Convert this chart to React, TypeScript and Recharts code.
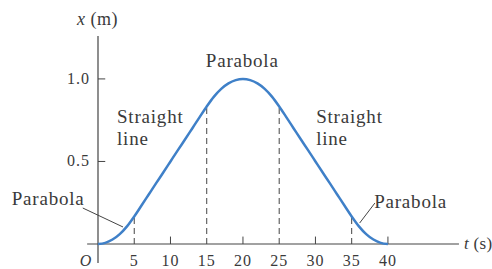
import React from "react";
import {
    LineChart,
    Line,
    XAxis,
    YAxis,
    ReferenceLine,
    ReferenceDot,
} from "recharts";

// time (s) and position (m)
const times = [
    0, 1, 2, 3, 4, 5, 6, 7, 8, 9, 10, 11, 12, 13, 14, 15, 16, 17, 18, 19, 20,
    21, 22, 23, 24, 25, 26, 27, 28, 29, 30, 31, 32, 33, 34, 35, 36, 37, 38, 39, 40,
];
const positions = [
    0, 0.007, 0.027, 0.06, 0.107, 0.167, 0.233, 0.3, 0.367, 0.433, 0.5, 0.567,
    0.633, 0.7, 0.767, 0.833, 0.893, 0.94, 0.973, 0.993, 1.0, 0.993, 0.973, 0.94,
    0.893, 0.833, 0.767, 0.7, 0.633, 0.567, 0.5, 0.433, 0.367, 0.3, 0.233, 0.167,
    0.107, 0.06, 0.027, 0.007, 0,
];

const xTicks = [0, 5, 10, 15, 20, 25, 30, 35, 40];
const yTicks = [0.5, 1.0];
const minorTicks = [10, 20, 30, 40];
// where the motion changes from parabola to straight line
const boundaries = [5, 15, 25, 35];

const BLUE = "#3f80c8";
const INK = "#3a3a3a";
const FONT = "Liberation Serif, Times New Roman, serif";

const data = times.map((t, i) => ({ t, x: positions[i] }));
const xAt = (t: number) => positions[times.indexOf(t)];

const textStyle = (size: number, spacing: number): React.CSSProperties => ({
    fontFamily: FONT,
    fontSize: size,
    letterSpacing: spacing,
    fill: INK,
});

const XTick = (props: any) => {
    const { x, y, payload } = props;
    const zero = payload.value === 0;
    return (
        <text
            x={zero ? x - 12 : x}
            y={y + 14}
            textAnchor="middle"
            style={{ ...textStyle(16, 1), fontStyle: zero ? "italic" : "normal" }}
        >
            {zero ? "O" : payload.value}
        </text>
    );
};

const YTick = (props: any) => {
    const { x, y, payload } = props;
    return (
        <text x={x} y={y + 5} textAnchor="end" style={textStyle(16, 1)}>
            {payload.value.toFixed(1)}
        </text>
    );
};

const note = (
    lines: React.ReactNode[],
    anchor: "start" | "middle",
    size: number,
    spacing: number
) =>
    ({ viewBox }: any) => (
        <text
            x={viewBox.x}
            y={viewBox.y}
            textAnchor={anchor}
            style={textStyle(size, spacing)}
        >
            {lines.map((l, i) => (
                <tspan key={i} x={viewBox.x} dy={i === 0 ? 0 : 22}>
                    {l}
                </tspan>
            ))}
        </text>
    );

const Note = (
    t: number,
    x: number,
    lines: React.ReactNode[],
    anchor: "start" | "middle" = "start",
    size = 19,
    spacing = 0.8
) => (
    <ReferenceDot
        key={`${t}-${x}`}
        x={t}
        y={x}
        r={0}
        fill="none"
        stroke="none"
        ifOverflow="visible"
        label={note(lines, anchor, size, spacing)}
    />
);

export default function App() {
    return (
        <div
            style={{
                position: "absolute",
                left: 0,
                top: 0,
                width: 492,
                height: 269,
                background: "#fff",
            }}
        >
            <LineChart
                width={492}
                height={269}
                data={data}
                margin={{ top: 36, right: 20, bottom: 0, left: 58 }}
            >
                <XAxis
                    dataKey="t"
                    type="number"
                    domain={[0, 51.6]}
                    ticks={xTicks}
                    height={25}
                    axisLine={false}
                    tickLine={false}
                    tick={<XTick />}
                    interval={0}
                />
                <YAxis
                    type="number"
                    domain={[0, 1.26]}
                    ticks={yTicks}
                    width={40}
                    axisLine={false}
                    tickLine={false}
                    tick={<YTick />}
                    interval={0}
                />

                {/* axes crossing at the origin */}
                <ReferenceLine
                    segment={[{ x: -1.5, y: 0 }, { x: 49.8, y: 0 }]}
                    stroke="#444"
                    strokeWidth={1.2}
                    ifOverflow="visible"
                />
                <ReferenceLine
                    segment={[{ x: 0, y: -0.115 }, { x: 0, y: 1.26 }]}
                    stroke="#444"
                    strokeWidth={1.2}
                    ifOverflow="visible"
                />
                {minorTicks.map((t) => (
                    <ReferenceLine
                        key={`mt${t}`}
                        segment={[{ x: t, y: 0 }, { x: t, y: 0.045 }]}
                        stroke="#444"
                        strokeWidth={1}
                        ifOverflow="visible"
                    />
                ))}
                {yTicks.map((v) => (
                    <ReferenceLine
                        key={`yt${v}`}
                        segment={[{ x: 0, y: v }, { x: 1, y: v }]}
                        stroke="#444"
                        strokeWidth={1}
                        ifOverflow="visible"
                    />
                ))}
                {boundaries.map((t) => (
                    <ReferenceLine
                        key={`b${t}`}
                        segment={[{ x: t, y: 0 }, { x: t, y: xAt(t) }]}
                        stroke="#444"
                        strokeWidth={1}
                        strokeDasharray="6 4"
                        ifOverflow="visible"
                    />
                ))}

                {/* leader lines for the small parabolas */}
                <ReferenceLine
                    segment={[{ x: -2.1, y: 0.218 }, { x: 3.45, y: 0.103 }]}
                    stroke="#444"
                    strokeWidth={1}
                    ifOverflow="visible"
                />
                <ReferenceLine
                    segment={[{ x: 38.2, y: 0.248 }, { x: 36.1, y: 0.127 }]}
                    stroke="#444"
                    strokeWidth={1}
                    ifOverflow="visible"
                />

                <Line
                    type="monotone"
                    dataKey="x"
                    stroke={BLUE}
                    strokeWidth={2.5}
                    dot={false}
                    isAnimationActive={false}
                />

                {Note(19.9, 1.073, ["Parabola"], "middle")}
                {Note(2.62, 0.733, ["Straight", "line"])}
                {Note(30.1, 0.733, ["Straight", "line"])}
                {Note(-11.9, 0.236, ["Parabola"])}
                {Note(38.1, 0.218, ["Parabola"])}
                {Note(-2.9, 1.327, [
                    <React.Fragment key="xm">
                        <tspan fontStyle="italic">x</tspan> (m)
                    </React.Fragment>,
                ], "start", 18, 0.5)}
                {Note(50.5, -0.03, [
                    <React.Fragment key="ts">
                        <tspan fontStyle="italic">t</tspan> (s)
                    </React.Fragment>,
                ], "start", 17, 0.3)}
            </LineChart>
        </div>
    );
}
